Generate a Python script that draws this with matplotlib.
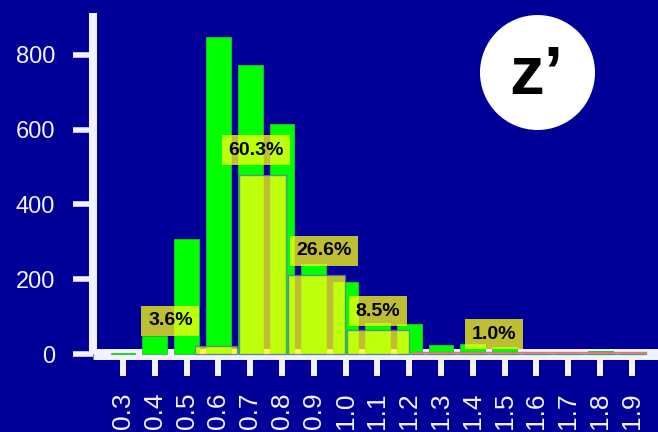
import numpy as np
import matplotlib.pyplot as plt
from matplotlib.patches import Ellipse

# histogram of z' values (counts per bin)
bins = [0.3, 0.4, 0.5, 0.6, 0.7, 0.8, 0.9, 1.0, 1.1, 1.2, 1.3, 1.4, 1.5, 1.6, 1.7, 1.8, 1.9]
tick_labels = ['0.3', '0.4', '0.5', '0.6', '0.7', '0.8', '0.9', '1.0', '1.1', '1.2',
               '1.3', '1.4', '1.5', '1.6', '1.7', '1.8', '1.9']
counts = [4, 49, 307, 846, 773, 616, 241, 192, 85, 80, 25, 28, 20, 5, 5, 9, 5]

# grouped ranges drawn as translucent boxes
group_left = [0.527, 0.665, 0.819, 1.004, 1.208]
group_right = [0.657, 0.811, 0.997, 1.199, 1.945]
group_height = [22, 478, 211, 66, 6]
group_pct = ['3.6%', '60.3%', '26.6%', '8.5%', '1.0%']
label_x = [0.449, 0.718, 0.932, 1.102, 1.467]
label_y = [90, 545, 277, 115, 54]

bg = '#000099'
fg = '#f2f2ff'
box_yellow = '#ffff10'

plt.rcParams['font.family'] = ['Liberation Sans', 'DejaVu Sans']

fig = plt.figure(figsize=(6.58, 4.32), dpi=100, facecolor=bg)
ax = fig.add_axes([93 / 658, 72 / 432, 565 / 658, 347 / 432], facecolor=bg)

ax.bar(bins, counts, width=0.078, color='#00ff00', edgecolor='#20c820',
       linewidth=0.6, zorder=3)

widths = np.array(group_right) - np.array(group_left)
ax.bar(group_left, group_height, width=widths, align='edge', color=box_yellow,
       alpha=0.75, edgecolor='#4f74a8', linewidth=1.0, zorder=4)
# thin last group gets a reddish top line
ax.hlines(group_height[-1] / 2, group_left[-1], group_right[-1],
          color='#e87878', linewidth=1.2, zorder=5)

for x, y, t in zip(label_x, label_y, group_pct):
    ax.text(x, y, t, ha='center', va='center', fontsize=14, fontweight='bold',
            color='black', zorder=6,
            bbox=dict(boxstyle='square,pad=0.34', facecolor=box_yellow,
                      edgecolor='none', alpha=0.75))

ax.set_xlim(0.2057, 1.982)
ax.set_ylim(-14.7, 910.7)

ax.set_xticks(bins)
ax.set_xticklabels(tick_labels)
ax.set_yticks([0, 200, 400, 600, 800])

for side in ['top', 'right']:
    ax.spines[side].set_visible(False)
ax.spines['left'].set_color(fg)
ax.spines['left'].set_linewidth(5.8)
ax.spines['left'].set_bounds(0, 910.7)
ax.spines['left'].set_capstyle('butt')
ax.spines['bottom'].set_position(('data', 0))
ax.spines['bottom'].set_color(fg)
ax.spines['bottom'].set_linewidth(7.9)
ax.spines['bottom'].set_capstyle('butt')
ax.spines['bottom'].set_zorder(2)

ax.tick_params(axis='x', length=15.5, width=4.3, color=fg, labelcolor=fg,
               labelsize=19, pad=12, labelrotation=90)
ax.tick_params(axis='y', length=14.4, width=4.0, color=fg, labelcolor=fg,
               labelsize=17, pad=13)
for lab in ax.get_xticklabels():
    lab.set_va('top')

# badge in the top right corner
circle = Ellipse((537.5 / 658, 1 - 72.5 / 432), 115 / 658, 115 / 432,
                 transform=fig.transFigure, facecolor='white', edgecolor='none')
fig.add_artist(circle)
fig.text(536 / 658, 1 - 94 / 432, 'z\u2019', ha='center', va='baseline',
         fontsize=50, fontweight='bold', color='black')

fig.savefig('out.png', dpi=100, facecolor=bg)
